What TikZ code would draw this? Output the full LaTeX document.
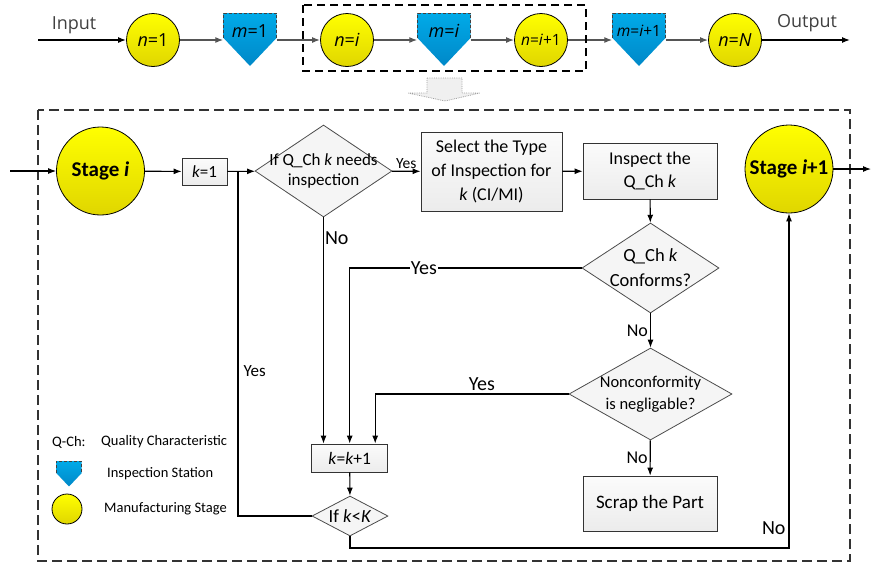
\documentclass[tikz,border=0pt]{standalone}
\usepackage{fontspec}
\setmainfont{Carlito}
\newfontfamily\topfont{Open Sans}
\usetikzlibrary{shapes.geometric,arrows.meta}
\definecolor{stationblue}{HTML}{00AAE8}
\definecolor{stationdark}{HTML}{0088C8}
\definecolor{stageyellow}{HTML}{FFFF00}
\definecolor{stagedark}{HTML}{E0D600}
\definecolor{flowgray}{HTML}{555555}
\tikzset{
  >={Latex[length=8pt,width=6pt]},
  toplabel/.style={font=\topfont\fontsize{18}{20}\selectfont, text=black!75, inner sep=0pt},
  topcirc/.style={circle, draw, line width=0.8pt, minimum size=53pt, inner sep=0pt, top color=stageyellow, bottom color=stagedark, font=\topfont\fontsize{18}{20}\selectfont},
  stationtext/.style={font=\topfont\fontsize{18}{20}\selectfont, inner sep=0pt},
  stationedge/.style={draw=black!75, line width=0.8pt, dash pattern=on 3pt off 2pt},
  toparrow/.style={->, draw=flowgray, line width=1.3pt},
  stagecirc/.style={circle, draw, line width=0.8pt, minimum size=88pt, inner sep=0pt, top color=stageyellow, bottom color=stagedark, font=\fontsize{21}{24}\selectfont\bfseries},
  procbox/.style={rectangle, draw=black!80, line width=0.8pt, top color=gray!3, bottom color=gray!15, align=center, inner sep=0pt, font=\fontsize{18}{24}\selectfont},
  decision/.style={diamond, draw=black!70, line width=0.8pt, fill=gray!8, inner sep=0pt},
  dectext/.style={align=center, inner sep=0pt, font=\fontsize{17}{20}\selectfont},
  flow/.style={->, line width=1.1pt},
  flowlabel/.style={font=\fontsize{20}{22}\selectfont, inner sep=2pt},
  legendtext/.style={font=\fontsize{14.5}{16}\selectfont, inner sep=0pt},
  groupbox/.style={line width=1.4pt, dash pattern=on 8pt off 5pt},
  stagebox/.style={line width=1.2pt, draw=black!80, dash pattern=on 10pt off 5pt},
}
% inspection station: name, x, y, scale
\newcommand{\station}[4]{%
  \begin{scope}[shift={(#2,#3)}, scale=#4]
    \shade[top color=stationblue, bottom color=stationdark] (-26.5,-27) -- (26.5,-27) -- (26.5,-2) -- (0,26) -- (-26.5,-2) -- cycle;
    \draw[stationedge] (-26.5,-2) -- (-26.5,-27) -- (26.5,-27) -- (26.5,-2);
  \end{scope}
  \node[minimum width={53pt*#4}, minimum height={53pt*#4}, inner sep=0pt] (#1) at (#2,#3) {};}

\begin{document}
\begin{tikzpicture}[x=1pt,y=-1pt]
  \useasboundingbox (0,0) rectangle (872,566);

  \coordinate (in) at (38,40);
  \coordinate (out) at (850,40);
  \node[toplabel] (inlbl) at (74,25) {Input};
  \node[toplabel] (outlbl) at (807,23) {Output};
  \node[topcirc] (n1) at (153,40) {\textit{n}=1};
  \station{m1}{250}{40}{1}
  \node[stationtext] (m1txt) at (250,31) {\textit{m}=1};
  \node[topcirc] (ni) at (347,40) {\textit{n}=\textit{i}};
  \station{mi}{444}{40}{1}
  \node[stationtext] (mitxt) at (444,31) {\textit{m}=\textit{i}};
  \node[topcirc, font=\topfont\fontsize{15.5}{17}\selectfont] (ni1) at (541,40) {\textit{n}=\textit{i}+1};
  \station{mi1}{639}{40}{1}
  \node[stationtext, font=\topfont\fontsize{15.5}{17}\selectfont] (mi1txt) at (639,31) {\textit{m}=\textit{i}+1};
  \node[topcirc] (nN) at (735,40) {\textit{n}=\textit{N}};

  \draw[->, line width=1.3pt] (in) -- (n1);
  \draw[toparrow] (n1) -- (m1);
  \draw[toparrow] (m1) -- (ni);
  \draw[toparrow] (ni) -- (mi);
  \draw[toparrow] (mi) -- (ni1);
  \draw[toparrow] (ni1) -- (mi1);
  \draw[toparrow] (mi1) -- (nN);
  \draw[->, line width=1.3pt] (nN) -- (out);
  \draw[groupbox] (303,5) rectangle (586,71);

  \draw[fill=gray!12, draw=gray!75, densely dotted, line width=0.8pt] (427,78) -- (462,78) -- (462,93) -- (480,93) -- (445,101) -- (408,93) -- (427,93) -- cycle;

  \draw[stagebox] (38,110) rectangle (850,561);

  \coordinate (entry) at (10,171);
  \coordinate (exit) at (871,169);
  \coordinate (loop) at (238,171);
  \coordinate (lowrun) at (350,548);
  \node[stagecirc] (st) at (100.5,171) {Stage \textit{i}};
  \node[stagecirc] (st2) at (789,169) {Stage \textit{i}+1};
  \node[procbox, minimum width=45pt, minimum height=27pt, font=\fontsize{17}{20}\selectfont] (k1) at (204.5,171.5) {\textit{k}=1};
  \node[decision, minimum width=137pt, minimum height=92pt, label={[dectext]center:{If Q\_Ch \textit{k} needs\\inspection}}] (d1) at (323.5,171) {};
  \node[procbox, minimum width=141pt, minimum height=79pt] (sel) at (491.5,171.5) {Select the Type\\of Inspection for\\\textit{k} (CI/MI)};
  \node[procbox, minimum width=134pt, minimum height=56pt, font=\fontsize{18}{23}\selectfont] (insp) at (650,171) {Inspect the\\Q\_Ch \textit{k}};
  \node[decision, minimum width=137pt, minimum height=90pt, label={[dectext, font=\fontsize{18.5}{25}\selectfont]center:{Q\_Ch \textit{k}\\Conforms?}}] (d2) at (650.5,268) {};
  \node[decision, minimum width=163pt, minimum height=92pt, label={[dectext, font=\fontsize{16.5}{22}\selectfont]center:{Nonconformity\\is negligable?}}] (d3) at (650.5,394) {};
  \node[procbox, minimum width=134pt, minimum height=55pt, font=\fontsize{19}{22}\selectfont] (scrap) at (650,503.5) {Scrap the Part};
  \node[procbox, minimum width=76pt, minimum height=28pt, font=\fontsize{17.5}{20}\selectfont] (kk) at (349.7,458) {\textit{k}=\textit{k}+1};
  \node[decision, minimum width=76pt, minimum height=40pt, label={[dectext, font=\fontsize{18.5}{20}\selectfont]center:{If \textit{k}<\textit{K}}}] (d4) at (350,516) {};

  \draw[flow] (entry) -- (st);
  \draw[flow] (st) -- (k1);
  \draw[flow] (k1) -- (d1);
  \draw[flow] (d1) -- (sel) node[midway, above, flowlabel, font=\fontsize{15.5}{17}\selectfont] {Yes};
  \draw[flow] (sel) -- (insp);
  \draw[flow] (insp) -- (d2);
  \draw[flow] (d2) -| (kk) node[pos=0.34, flowlabel, fill=white, inner sep=1pt] {Yes};
  \draw[flow] (d1.south) -- (d1.south |- kk.north) node[pos=0.09, anchor=west, flowlabel, inner sep=1pt] {No};
  \draw[flow] (d2) -- (d3) node[midway, left, flowlabel, font=\fontsize{18}{20}\selectfont, inner sep=2pt] {No};
  \draw[flow] (d3.west) -| ([xshift=25.5pt]kk.north) node[pos=0.224, above, flowlabel, inner sep=3pt] {Yes};
  \draw[flow] (d3) -- (scrap) node[midway, left, flowlabel, font=\fontsize{18}{20}\selectfont, inner sep=2pt] {No};
  \draw[flow] (kk) -- (d4);
  \draw[line width=1.1pt] (d4) -| (loop) node[pos=0.71, right, flowlabel, font=\fontsize{17}{20}\selectfont, inner sep=5pt] {Yes};
  \draw[flow] (d4) -- (lowrun) -| (st2) node[pos=0.53, left, flowlabel, inner sep=3pt] {No};
  \draw[flow] (st2) -- (exit);

  \node[legendtext, anchor=west] (qch) at (52,442) {Q-Ch:};
  \node[legendtext, anchor=west] (qchdef) at (101,442) {Quality Characteristic};
  \station{legst}{69}{474}{0.48}
  \node[legendtext, anchor=west] (legsttxt) at (107,474) {Inspection Station};
  \node[circle, draw, line width=0.8pt, minimum size=30pt, inner sep=0pt, top color=stageyellow, bottom color=stagedark] (legcirc) at (67,509) {};
  \node[legendtext, anchor=west] (legcirctxt) at (104,509) {Manufacturing Stage};
\end{tikzpicture}
\end{document}
